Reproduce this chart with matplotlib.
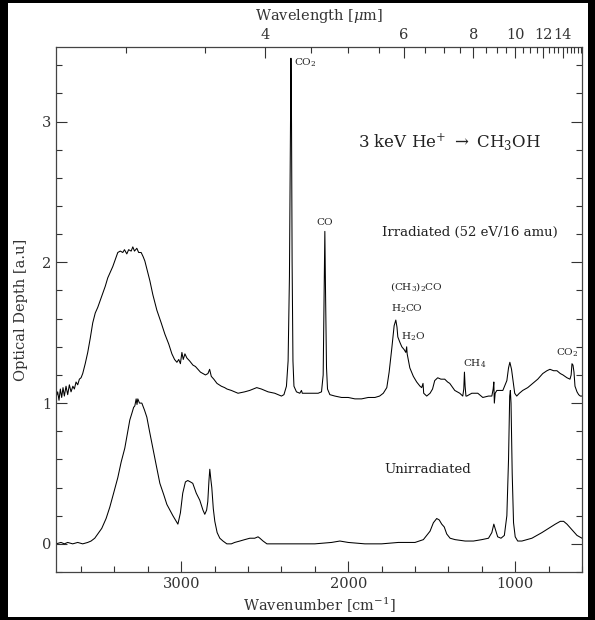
import numpy as np
import matplotlib
matplotlib.use('Agg')
import matplotlib.pyplot as plt
from matplotlib.patches import Rectangle
from matplotlib.ticker import MultipleLocator

plt.rcParams['font.family'] = 'DejaVu Serif'
plt.rcParams['mathtext.fontset'] = 'dejavuserif'

# irradiated spectrum (already offset by +1)
irr_wn = [3750, 3740, 3732, 3724, 3716, 3708, 3700, 3690, 3680, 3670, 3660, 3649, 3640, 3630, 3620,
          3610, 3600, 3590, 3575, 3560, 3545, 3530, 3515, 3500, 3485, 3470, 3455, 3440, 3425, 3410,
          3395, 3380, 3365, 3350, 3340, 3326, 3315, 3300, 3290, 3280, 3266, 3255, 3240, 3228, 3218,
          3205, 3188, 3170, 3146, 3120, 3098, 3075, 3056, 3040, 3026, 3015, 3005, 2996, 2988, 2978,
          2966, 2950, 2930, 2915, 2900, 2885, 2870, 2855, 2840, 2830, 2820, 2805, 2786, 2760, 2740,
          2726, 2700, 2680, 2660, 2620, 2590, 2548, 2520, 2480, 2440, 2400, 2385, 2370, 2360, 2352,
          2346, 2343, 2340, 2336, 2331, 2325, 2310, 2290, 2280, 2275, 2260, 2220, 2180, 2160, 2150,
          2145, 2140, 2136, 2130, 2124, 2110, 2080, 2040, 2000, 1960, 1920, 1880, 1840, 1812, 1790,
          1769, 1755, 1739, 1725, 1715, 1708, 1703, 1690, 1679, 1665, 1655, 1650, 1647, 1631, 1610,
          1590, 1570, 1560, 1552, 1548, 1530, 1510, 1495, 1482, 1464, 1445, 1422, 1405, 1392, 1362,
          1332, 1314, 1308, 1304, 1300, 1295, 1290, 1260, 1224, 1194, 1160, 1140, 1132, 1128, 1125,
          1120, 1110, 1074, 1050, 1040, 1032, 1022, 1014, 1003, 991, 975, 955, 925, 895, 865,
          835, 810, 792, 770, 750, 730, 714, 690, 672, 665, 660, 654, 648, 642, 630,
          620, 610, 600]
irr_od = [1.04, 1.08, 1.02, 1.10, 1.04, 1.11, 1.05, 1.12, 1.06, 1.13, 1.08, 1.12, 1.10, 1.15, 1.13,
          1.17, 1.18, 1.21, 1.28, 1.36, 1.46, 1.57, 1.64, 1.68, 1.73, 1.78, 1.83, 1.89, 1.93, 1.97,
          2.02, 2.07, 2.08, 2.07, 2.09, 2.06, 2.09, 2.08, 2.11, 2.08, 2.10, 2.07, 2.07, 2.04, 2.01,
          1.95, 1.87, 1.77, 1.66, 1.57, 1.49, 1.42, 1.35, 1.31, 1.29, 1.31, 1.28, 1.36, 1.31, 1.35,
          1.32, 1.30, 1.27, 1.26, 1.24, 1.22, 1.21, 1.20, 1.21, 1.24, 1.19, 1.17, 1.14, 1.12, 1.11,
          1.10, 1.09, 1.08, 1.07, 1.08, 1.09, 1.11, 1.10, 1.08, 1.07, 1.05, 1.06, 1.12, 1.30, 1.90,
          3.00, 3.45, 3.10, 2.00, 1.30, 1.12, 1.08, 1.07, 1.09, 1.07, 1.07, 1.07, 1.07, 1.08, 1.20,
          1.70, 2.22, 1.80, 1.25, 1.10, 1.06, 1.05, 1.04, 1.04, 1.03, 1.03, 1.04, 1.04, 1.05, 1.07,
          1.11, 1.22, 1.39, 1.55, 1.59, 1.54, 1.47, 1.43, 1.40, 1.38, 1.36, 1.40, 1.35, 1.25, 1.19,
          1.15, 1.12, 1.11, 1.14, 1.07, 1.05, 1.07, 1.10, 1.16, 1.18, 1.17, 1.17, 1.15, 1.14, 1.09,
          1.07, 1.05, 1.10, 1.22, 1.12, 1.05, 1.05, 1.07, 1.07, 1.04, 1.05, 1.05, 1.10, 1.15, 1.00,
          1.07, 1.09, 1.09, 1.16, 1.25, 1.29, 1.24, 1.17, 1.07, 1.05, 1.07, 1.09, 1.11, 1.14, 1.17,
          1.21, 1.23, 1.24, 1.23, 1.23, 1.21, 1.20, 1.18, 1.17, 1.20, 1.28, 1.27, 1.22, 1.12, 1.08,
          1.06, 1.05, 1.05]

# unirradiated spectrum
unirr_wn = [3750, 3720, 3700, 3680, 3650, 3620, 3590, 3560, 3540, 3518, 3500, 3476, 3450, 3428, 3405,
            3380, 3360, 3338, 3320, 3308, 3295, 3285, 3278, 3270, 3265, 3260, 3250, 3236, 3220, 3206,
            3190, 3170, 3150, 3128, 3105, 3086, 3050, 3020, 3005, 2991, 2975, 2961, 2945, 2931, 2910,
            2889, 2870, 2859, 2848, 2841, 2834, 2829, 2822, 2817, 2808, 2799, 2785, 2769, 2750, 2727,
            2700, 2680, 2649, 2620, 2589, 2560, 2540, 2529, 2510, 2487, 2400, 2300, 2200, 2100, 2050,
            2000, 1900, 1800, 1700, 1600, 1550, 1510, 1490, 1470, 1455, 1440, 1425, 1410, 1390, 1360,
            1300, 1250, 1200, 1160, 1140, 1128, 1118, 1105, 1085, 1065, 1050, 1040, 1033, 1029, 1025,
            1018, 1010, 1000, 985, 960, 930, 900, 870, 840, 800, 760, 730, 710, 690, 660,
            630, 600]
unirr_od = [0.00, 0.01, 0.00, 0.01, 0.00, 0.01, 0.00, 0.01, 0.02, 0.04, 0.07, 0.11, 0.18, 0.26, 0.36,
            0.47, 0.58, 0.68, 0.80, 0.88, 0.93, 0.97, 0.98, 1.03, 0.99, 1.03, 1.00, 1.00, 0.95, 0.90,
            0.80, 0.68, 0.56, 0.43, 0.35, 0.28, 0.20, 0.14, 0.22, 0.36, 0.44, 0.45, 0.44, 0.43, 0.36,
            0.31, 0.24, 0.21, 0.24, 0.30, 0.45, 0.53, 0.45, 0.40, 0.25, 0.16, 0.08, 0.04, 0.02, 0.00,
            0.00, 0.01, 0.02, 0.03, 0.04, 0.04, 0.05, 0.04, 0.02, 0.00, 0.00, 0.00, 0.00, 0.01, 0.02,
            0.01, 0.00, 0.00, 0.01, 0.01, 0.03, 0.09, 0.15, 0.18, 0.17, 0.14, 0.12, 0.07, 0.04, 0.03,
            0.02, 0.02, 0.03, 0.04, 0.08, 0.14, 0.10, 0.05, 0.04, 0.06, 0.20, 0.60, 1.05, 1.09, 1.00,
            0.50, 0.15, 0.05, 0.02, 0.02, 0.03, 0.04, 0.06, 0.08, 0.11, 0.14, 0.16, 0.16, 0.14, 0.10,
            0.06, 0.04]

# wavelength axis ticks (micron)
wl_major = [4, 6, 8, 10, 12, 14]
wl_minor = np.arange(2.5, 17.0, 0.5)

# line labels: (text, wavenumber, od, size, align)
labels = [(r'CO$_2$', 2322, 3.42, 7.5, 'left'),
          ('CO', 2140, 2.28, 7.5, 'center'),
          (r'(CH$_3$)$_2$CO', 1590, 1.83, 7.5, 'center'),
          (r'H$_2$CO', 1650, 1.67, 7.5, 'center'),
          (r'H$_2$O', 1612, 1.47, 7.5, 'center'),
          (r'CH$_4$', 1243, 1.28, 7.5, 'center'),
          (r'CO$_2$', 690, 1.36, 7.5, 'center')]

fig = plt.figure(figsize=(5.95, 6.2), dpi=100)
fig.patch.set_facecolor('black')
fig.patches.append(Rectangle((8 / 595, 3 / 620), 580 / 595, 614 / 620,
                             transform=fig.transFigure, facecolor='white',
                             edgecolor='none', zorder=-10))

ax = fig.add_axes([56 / 595, 48 / 620, 526 / 595, 525 / 620])
ax.plot(irr_wn, irr_od, color='black', lw=0.75)
ax.plot(unirr_wn, unirr_od, color='black', lw=0.75)
ax.set_xlim(3750, 600)
ax.set_ylim(-0.2, 3.53)

ax.xaxis.set_major_locator(MultipleLocator(1000))
ax.xaxis.set_minor_locator(MultipleLocator(200))
ax.yaxis.set_major_locator(MultipleLocator(1))
ax.yaxis.set_minor_locator(MultipleLocator(0.2))
ax.tick_params(which='both', direction='in', top=False, right=True, colors='#333333',
               labelsize=10.5, width=0.8)
ax.tick_params(which='major', length=8)
ax.tick_params(which='minor', length=4)
ax.tick_params(axis='y', which='both', labelright=False)
for s in ax.spines.values():
    s.set_color('#444444')
    s.set_linewidth(0.9)

ax.set_xlabel(r'Wavenumber [cm$^{-1}$]', fontsize=10.5, color='#333333', labelpad=4)
ax.set_ylabel('Optical Depth [a.u]', fontsize=10.5, color='#333333', labelpad=10)

ax2 = ax.twiny()
ax2.set_xlim(ax.get_xlim())
ax2.set_xticks([1e4 / w for w in wl_major])
ax2.set_xticklabels([str(w) for w in wl_major])
ax2.set_xticks([1e4 / w for w in wl_minor if 1e4 / w <= 3750 and 1e4 / w >= 600], minor=True)
ax2.tick_params(which='both', direction='in', colors='#333333', labelsize=10.5, width=0.8)
ax2.tick_params(which='major', length=8)
ax2.tick_params(which='minor', length=4)
ax2.set_xlabel(r'Wavelength [$\mu$m]', fontsize=10.5, color='#333333', labelpad=6)
for s in ax2.spines.values():
    s.set_visible(False)

for txt, x, y, size, ha in labels:
    ax.text(x, y, txt, fontsize=size, ha=ha, va='center', color='#222222')

ax.text(1392, 2.85, r'3 keV He$^{+}$ $\rightarrow$ CH$_3$OH', fontsize=12, ha='center',
        va='center', color='#222222')
ax.text(1270, 2.21, 'Irradiated (52 eV/16 amu)', fontsize=9.5, ha='center', va='center',
        color='#222222')
ax.text(1524, 0.53, 'Unirradiated', fontsize=9.5, ha='center', va='center', color='#222222')

fig.savefig('out.png', dpi=100, facecolor=fig.get_facecolor())
